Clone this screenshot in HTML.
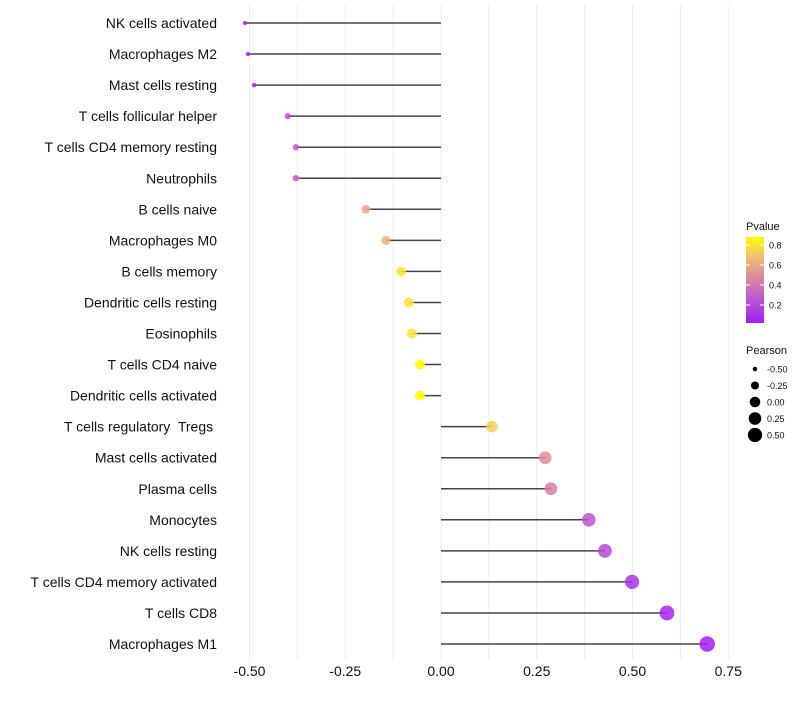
<!DOCTYPE html>
<html><head><meta charset="utf-8"><style>
body{margin:0;background:#fff;font-family:"Liberation Sans",sans-serif}
text{white-space:pre}
</style></head><body>
<svg id="c" width="800" height="700" xmlns="http://www.w3.org/2000/svg">
<defs><linearGradient id="pg" x1="0" y1="1" x2="0" y2="0">
<stop offset="0" stop-color="#A020F0"/><stop offset="0.32" stop-color="#C060C8"/><stop offset="0.55" stop-color="#DE8C9A"/><stop offset="0.78" stop-color="#F2C070"/><stop offset="1" stop-color="#FFFF00"/></linearGradient></defs>
</svg>
<script>
const categories=["NK cells activated","Macrophages M2","Mast cells resting","T cells follicular helper","T cells CD4 memory resting","Neutrophils","B cells naive","Macrophages M0","B cells memory","Dendritic cells resting","Eosinophils","T cells CD4 naive","Dendritic cells activated","T cells regulatory  Tregs ","Mast cells activated","Plasma cells","Monocytes","NK cells resting","T cells CD4 memory activated","T cells CD8","Macrophages M1"];
const pearson=[-0.512,-0.504,-0.488,-0.40,-0.379,-0.379,-0.196,-0.144,-0.104,-0.084,-0.076,-0.055,-0.055,0.133,0.272,0.287,0.386,0.428,0.499,0.590,0.695];
const pvalue=[0.05,0.05,0.07,0.25,0.3,0.3,0.6,0.65,0.8,0.8,0.8,0.88,0.88,0.75,0.5,0.45,0.25,0.2,0.1,0.05,0.02];
const xTicks=[-0.5,-0.25,0,0.25,0.5,0.75];
const xTickLabels=["-0.50","-0.25","0.00","0.25","0.50","0.75"];
const NS="http://www.w3.org/2000/svg",svg=document.getElementById('c');
const x=v=>441+v*383, y=i=>23+i*31.05;
function el(t,a,p){const e=document.createElementNS(NS,t);for(const k in a)e.setAttribute(k,a[k]);(p||svg).appendChild(e);return e;}
const stops=[[0.02,[160,32,240]],[0.3,[192,96,200]],[0.5,[222,140,154]],[0.7,[242,192,112]],[0.88,[255,255,0]]];
function col(p){if(p<=stops[0][0])return 'rgb('+stops[0][1]+')';for(let i=1;i<stops.length;i++){if(p<=stops[i][0]){const t=(p-stops[i-1][0])/(stops[i][0]-stops[i-1][0]);const a=stops[i-1][1],b=stops[i][1];return 'rgb('+a.map((v,k)=>Math.round(v+(b[k]-v)*t)).join(',')+')';}}return 'rgb(255,255,0)';}
const rad=v=>Math.sqrt(Math.max(3.5,28+46*v));
for(let v=-0.5;v<=0.76;v+=0.125){const g=el('line',{x1:x(v),x2:x(v),y1:5,y2:660,stroke:'#ececec','stroke-width':1});

}
xTicks.forEach((t,i)=>{const tx=el('text',{x:x(t),y:676,'text-anchor':'middle','font-size':14,fill:'#111'});tx.textContent=xTickLabels[i];

});
categories.forEach((c,i)=>{
const t=el('text',{x:217,y:y(i)+5,'text-anchor':'end','font-size':14,fill:'#111'});t.textContent=c;


const s=el('line',{x1:x(pearson[i]),x2:x(0),y1:y(i),y2:y(i),stroke:'#444','stroke-width':1.5});


const d=el('circle',{cx:x(pearson[i]),cy:y(i),r:rad(pearson[i]),fill:col(pvalue[i]),'fill-opacity':0.85});


});
const lt=el('text',{x:746,y:230,'font-size':11,fill:'#111'});lt.textContent='Pvalue';


const cb=el('rect',{x:746,y:237,width:18,height:86,fill:'url(#pg)'});


[0.8,0.6,0.4,0.2].forEach(p=>{const yy=237+(0.88-p)/0.86*86;el('line',{x1:746,x2:750,y1:yy,y2:yy,stroke:'#fff'});el('line',{x1:760,x2:764,y1:yy,y2:yy,stroke:'#fff'});
const t=el('text',{x:769,y:yy+3.5,'font-size':9,fill:'#111'});t.textContent=p.toFixed(1);

});
const pt=el('text',{x:746,y:354,'font-size':11,fill:'#111'});pt.textContent='Pearson';


[-0.5,-0.25,0,0.25,0.5].forEach((v,i)=>{const yy=369+i*16.5;el('circle',{cx:755,cy:yy,r:rad(v),fill:'#000'});
const t=el('text',{x:767,y:yy+3.5,'font-size':9,fill:'#111'});t.textContent=v.toFixed(2);

});
</script>
</body></html>
